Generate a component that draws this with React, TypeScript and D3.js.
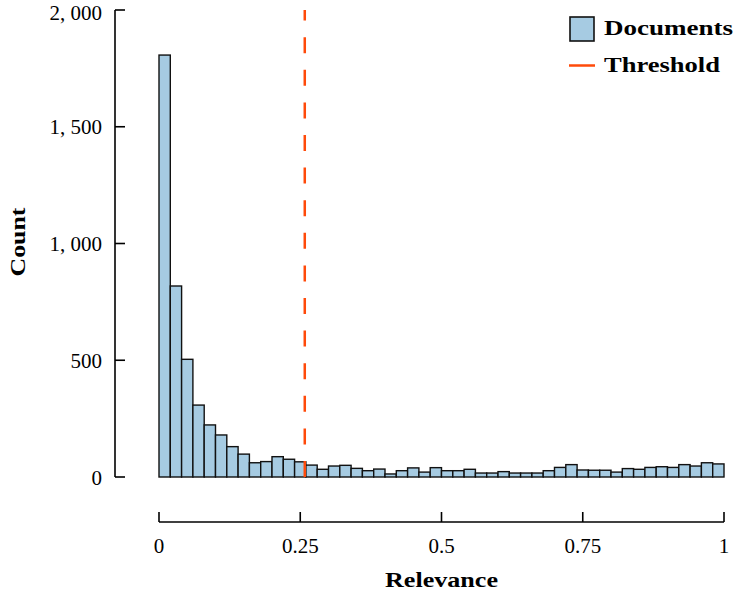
import React from "react";
import * as d3 from "d3";

const binEdges: number[] = d3.range(0, 51).map((i) => i / 50);
const counts: number[] = [
  1807, 818, 504, 308, 223, 180, 130, 98, 61, 66,
  87, 76, 65, 51, 33, 47, 50, 37, 27, 34,
  13, 27, 39, 21, 40, 27, 27, 33, 17, 17,
  23, 17, 17, 17, 27, 41, 53, 30, 29, 29,
  21, 36, 33, 41, 44, 41, 53, 47, 61, 56,
];
const threshold = 0.258;
const xTicks: number[] = [0, 0.25, 0.5, 0.75, 1];
const xTickLabels: string[] = ["0", "0.25", "0.5", "0.75", "1"];
const yTicks: number[] = [0, 500, 1000, 1500, 2000];
const yTickLabels: string[] = ["0", "500", "1, 000", "1, 500", "2, 000"];
const legendLabels: string[] = ["Documents", "Threshold"];

const W = 735;
const H = 598;
const FONT = "'Liberation Serif', 'DejaVu Serif', serif";
const BAR_FILL = "#a6cbe2";
const THRESH = "#ff4a0a";

export default function App() {
  const x = d3.scaleLinear().domain([0, 1]).range([159, 724]);
  const y = d3.scaleLinear().domain([0, 2000]).range([477, 10]);
  const xAxisY = 522;
  const yAxisX = 115;

  return (
    <svg
      width={W}
      height={H}
      style={{ position: "absolute", left: 0, top: 0, background: "#fff" }}
      fontFamily={FONT}
    >
      {/* bars */}
      {counts.map((c, i) => (
        <rect
          key={i}
          x={x(binEdges[i])}
          y={y(c)}
          width={x(binEdges[i + 1]) - x(binEdges[i])}
          height={y(0) - y(c)}
          fill={BAR_FILL}
          stroke="#111"
          strokeWidth={1.4}
        />
      ))}
      {/* threshold */}
      <line
        x1={x(threshold)}
        x2={x(threshold)}
        y1={y(0)}
        y2={y(2000)}
        stroke={THRESH}
        strokeWidth={2.5}
        strokeDasharray="16 16.6"
      />
      {/* y axis */}
      <line x1={yAxisX} x2={yAxisX} y1={y(0)} y2={y(2000)} stroke="#000" strokeWidth={1.6} />
      {yTicks.map((t, i) => (
        <g key={t}>
          <line x1={yAxisX} x2={yAxisX + 10} y1={y(t)} y2={y(t)} stroke="#000" strokeWidth={1.6} />
          <text
            x={102}
            y={Math.max(y(t) + 7.5, 20)}
            textAnchor="end"
            fontSize={21}
            fill="#000"
          >
            {yTickLabels[i]}
          </text>
        </g>
      ))}
      <text
        transform={`translate(25,242) rotate(-90)`}
        textAnchor="middle"
        fontSize={21}
        fontWeight="bold"
        fill="#000"
        textLength={69}
        lengthAdjust="spacingAndGlyphs"
      >
        Count
      </text>
      {/* x axis */}
      <line x1={x(0)} x2={x(1)} y1={xAxisY} y2={xAxisY} stroke="#000" strokeWidth={1.6} />
      {xTicks.map((t, i) => (
        <g key={t}>
          <line x1={x(t)} x2={x(t)} y1={xAxisY} y2={xAxisY - 10} stroke="#000" strokeWidth={1.6} />
          <text x={x(t)} y={553} textAnchor="middle" fontSize={21} fill="#000">
            {xTickLabels[i]}
          </text>
        </g>
      ))}
      <text
        x={441.5}
        y={587}
        textAnchor="middle"
        fontSize={21}
        fontWeight="bold"
        fill="#000"
        textLength={113}
        lengthAdjust="spacingAndGlyphs"
      >
        Relevance
      </text>
      {/* legend */}
      <rect x={570} y={17} width={24} height={24} fill={BAR_FILL} stroke="#111" strokeWidth={1.6} />
      <text
        x={604}
        y={35}
        fontSize={21}
        fontWeight="bold"
        fill="#000"
        textLength={129}
        lengthAdjust="spacingAndGlyphs"
      >
        {legendLabels[0]}
      </text>
      <line x1={569} x2={595} y1={65.5} y2={65.5} stroke={THRESH} strokeWidth={2.5} />
      <text
        x={604}
        y={72}
        fontSize={21}
        fontWeight="bold"
        fill="#000"
        textLength={116}
        lengthAdjust="spacingAndGlyphs"
      >
        {legendLabels[1]}
      </text>
    </svg>
  );
}
